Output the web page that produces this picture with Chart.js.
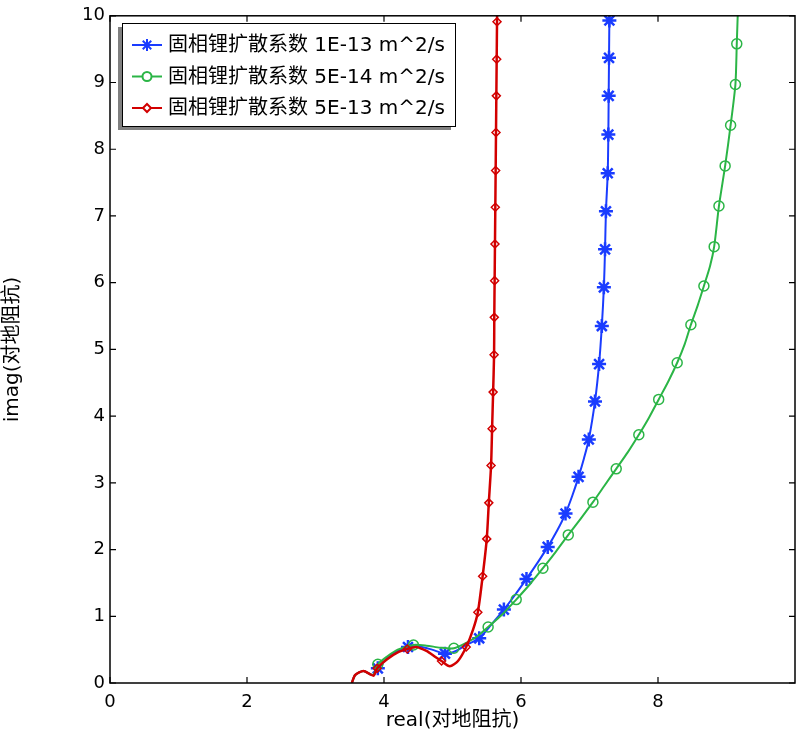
<!DOCTYPE html>
<html>
<head>
<meta charset="utf-8">
<script src="https://cdn.jsdelivr.net/npm/chart.js@4/dist/chart.umd.min.js"></script>
<style>
  html, body { margin: 0; padding: 0; background: #fff; }
  #wrap { width: 799px; height: 734px; }
</style>
</head>
<body>
<div id="wrap"><canvas id="nyquist"></canvas></div>
<script>
// series names
const seriesLabels = ['固相锂扩散系数 1E-13 m^2/s', '固相锂扩散系数 5E-14 m^2/s', '固相锂扩散系数 5E-13 m^2/s'];

// 1E-13 (blue)
const blueReal = [3.53, 3.58, 3.70, 3.80, 3.85, 3.91, 4.05, 4.20, 4.35, 4.50, 4.70, 4.89, 5.05, 5.20, 5.39, 5.57, 5.75, 5.92, 6.08, 6.24, 6.39, 6.53, 6.65, 6.75, 6.84, 6.92, 6.99, 7.08, 7.14, 7.18, 7.21, 7.227, 7.24, 7.266, 7.275, 7.28, 7.285, 7.29, 7.295];
const blueImag = [0.00, 0.12, 0.18, 0.13, 0.12, 0.22, 0.37, 0.48, 0.54, 0.55, 0.50, 0.44, 0.48, 0.57, 0.67, 0.88, 1.10, 1.33, 1.56, 1.80, 2.04, 2.29, 2.54, 2.81, 3.09, 3.37, 3.65, 4.22, 4.78, 5.35, 5.93, 6.50, 7.07, 7.64, 8.22, 8.80, 9.37, 9.93, 10.4];
const blueMarked = [0, 0, 0, 0, 0, 1, 0, 0, 1, 0, 0, 1, 0, 0, 1, 0, 1, 0, 1, 0, 1, 0, 1, 0, 1, 0, 1, 1, 1, 1, 1, 1, 1, 1, 1, 1, 1, 1, 0];

// 5E-14 (green)
const greenReal = [3.53, 3.58, 3.70, 3.80, 3.85, 3.91, 4.05, 4.20, 4.43, 4.62, 4.82, 5.02, 5.20, 5.36, 5.52, 5.73, 5.93, 6.13, 6.32, 6.51, 6.69, 6.87, 7.05, 7.22, 7.39, 7.56, 7.72, 7.87, 8.01, 8.15, 8.28, 8.39, 8.48, 8.58, 8.67, 8.76, 8.82, 8.89, 8.98, 9.06, 9.13, 9.15, 9.17];
const greenImag = [0.00, 0.12, 0.18, 0.13, 0.13, 0.28, 0.40, 0.50, 0.57, 0.56, 0.53, 0.52, 0.60, 0.70, 0.84, 1.03, 1.25, 1.48, 1.72, 1.97, 2.22, 2.46, 2.71, 2.96, 3.21, 3.46, 3.72, 3.98, 4.25, 4.52, 4.80, 5.08, 5.37, 5.66, 5.95, 6.25, 6.54, 7.15, 7.75, 8.36, 8.97, 9.58, 10.2];
const greenMarked = [0, 0, 0, 0, 0, 1, 0, 0, 1, 0, 0, 1, 0, 0, 1, 0, 1, 0, 1, 0, 1, 0, 1, 0, 1, 0, 1, 0, 1, 0, 1, 0, 1, 0, 1, 0, 1, 1, 1, 1, 1, 1, 0];

// 5E-13 (red)
const redReal = [3.53, 3.58, 3.70, 3.80, 3.85, 3.90, 4.05, 4.20, 4.34, 4.47, 4.62, 4.75, 4.84, 4.96, 5.08, 5.20, 5.30, 5.37, 5.44, 5.50, 5.53, 5.563, 5.578, 5.593, 5.607, 5.61, 5.615, 5.62, 5.625, 5.63, 5.635, 5.64, 5.645, 5.65, 5.655];
const redImag = [0.00, 0.12, 0.18, 0.13, 0.11, 0.22, 0.36, 0.46, 0.51, 0.54, 0.48, 0.39, 0.33, 0.25, 0.33, 0.54, 0.80, 1.06, 1.60, 2.16, 2.70, 3.26, 3.81, 4.36, 4.92, 5.48, 6.03, 6.58, 7.13, 7.68, 8.25, 8.80, 9.35, 9.91, 10.3];
const redMarked = [0, 0, 0, 0, 0, 1, 0, 0, 1, 0, 0, 0, 1, 0, 0, 1, 0, 1, 1, 1, 1, 1, 1, 1, 1, 1, 1, 1, 1, 1, 1, 1, 1, 1, 0];

// axis ticks
const xTicks = [0, 2, 4, 6, 8];
const yTicks = [0, 1, 2, 3, 4, 5, 6, 7, 8, 9, 10];

const latinCjk = "'DejaVu Sans', 'Noto Sans CJK SC', sans-serif";

function pts(xs, ys) {
  return xs.map((x, i) => ({ x: x, y: ys[i] }));
}

function makeSet(label, xs, ys, marked, color, style, radius, lw, order) {
  return {
    label: label,
    data: pts(xs, ys),
    showLine: true,
    borderColor: color,
    borderWidth: lw,
    tension: 0.25,
    pointStyle: style,
    pointRadius: ctx => marked[ctx.dataIndex] ? radius : 0,
    pointHoverRadius: 0,
    pointBorderColor: color,
    pointBackgroundColor: 'rgba(0,0,0,0)',
    pointBorderWidth: style === 'star' ? 2.5 : 1.5,
    order: order
  };
}

const blue = '#1a3cff';
const green = '#2bb546';
const red = '#d20000';

// frame with inward ticks, plus the boxed legend with a shadow
const framePlugin = {
  id: 'frame',
  afterDatasetsDraw(chart) {
    const { ctx, chartArea: a, scales } = chart;
    ctx.save();
    ctx.strokeStyle = '#000';
    ctx.lineWidth = 1.5;
    ctx.strokeRect(a.left, a.top, a.right - a.left, a.bottom - a.top);
    ctx.lineWidth = 1.2;
    const tl = 6;
    ctx.beginPath();
    xTicks.forEach(v => {
      const px = scales.x.getPixelForValue(v);
      ctx.moveTo(px, a.bottom); ctx.lineTo(px, a.bottom - tl);
      ctx.moveTo(px, a.top); ctx.lineTo(px, a.top + tl);
    });
    yTicks.forEach(v => {
      const py = scales.y.getPixelForValue(v);
      ctx.moveTo(a.left, py); ctx.lineTo(a.left + tl, py);
      ctx.moveTo(a.right, py); ctx.lineTo(a.right - tl, py);
    });
    ctx.stroke();

    // legend
    const lx = 122, ly = 23, lw = 333, lh = 103;
    ctx.fillStyle = '#808080';
    ctx.fillRect(lx - 4, ly + 4, lw, lh);
    ctx.fillStyle = '#fff';
    ctx.fillRect(lx, ly, lw, lh);
    ctx.strokeStyle = '#000';
    ctx.lineWidth = 1;
    ctx.strokeRect(lx + 0.5, ly + 0.5, lw, lh);

    ctx.font = '20px ' + latinCjk;
    ctx.textBaseline = 'middle';
    chart.data.datasets.forEach((ds, i) => {
      const yy = ly + 22 + i * 31.5;
      ctx.strokeStyle = ds.borderColor;
      ctx.lineWidth = 2;
      ctx.beginPath();
      ctx.moveTo(lx + 10, yy); ctx.lineTo(lx + 40, yy);
      ctx.stroke();
      const r = ds.pointStyle === 'star' ? 6 : (ds.pointStyle === 'circle' ? 4.5 : 4);
      ctx.fillStyle = '#fff';
      Chart.helpers.drawPoint(ctx, { pointStyle: ds.pointStyle, radius: r, borderWidth: ds.pointBorderWidth, rotation: 0 }, lx + 25, yy);
      ctx.fillStyle = '#000';
      ctx.fillText(ds.label, lx + 46, yy + 1);
    });
    ctx.restore();
  }
};

new Chart(document.getElementById('nyquist'), {
  type: 'scatter',
  data: {
    datasets: [
      makeSet(seriesLabels[0], blueReal, blueImag, blueMarked, blue, 'star', 7, 2, 3),
      makeSet(seriesLabels[1], greenReal, greenImag, greenMarked, green, 'circle', 5, 2, 2),
      makeSet(seriesLabels[2], redReal, redImag, redMarked, red, 'rectRot', 4, 2.5, 1)
    ]
  },
  options: {
    responsive: true,
    maintainAspectRatio: false,
    animation: false,
    layout: { padding: { left: 0, right: 4, top: 10, bottom: 0 } },
    plugins: {
      legend: { display: false },
      tooltip: { enabled: false },
      title: { display: false }
    },
    scales: {
      x: {
        type: 'linear',
        min: 0,
        max: 10,
        afterBuildTicks: s => { s.ticks = xTicks.map(v => ({ value: v })); },
        afterFit: s => { s.height = 51; },
        grid: { display: false, drawTicks: false },
        border: { display: false },
        ticks: { color: '#000', padding: 9, font: { family: latinCjk, size: 18 } },
        title: {
          display: true,
          text: 'real(对地阻抗)',
          color: '#000',
          padding: { top: 0, bottom: 1 },
          font: { family: latinCjk, size: 20 }
        }
      },
      y: {
        type: 'linear',
        min: 0,
        max: 10,
        afterBuildTicks: s => { s.ticks = yTicks.map(v => ({ value: v })); },
        afterFit: s => { s.width = 110; },
        grid: { display: false, drawTicks: false },
        border: { display: false },
        ticks: { color: '#000', padding: 5, font: { family: latinCjk, size: 18 } },
        title: {
          display: true,
          text: 'imag(对地阻抗)',
          color: '#000',
          padding: { top: 1, bottom: 2 },
          font: { family: latinCjk, size: 20 }
        }
      }
    }
  },
  plugins: [framePlugin]
});
</script>
</body>
</html>
